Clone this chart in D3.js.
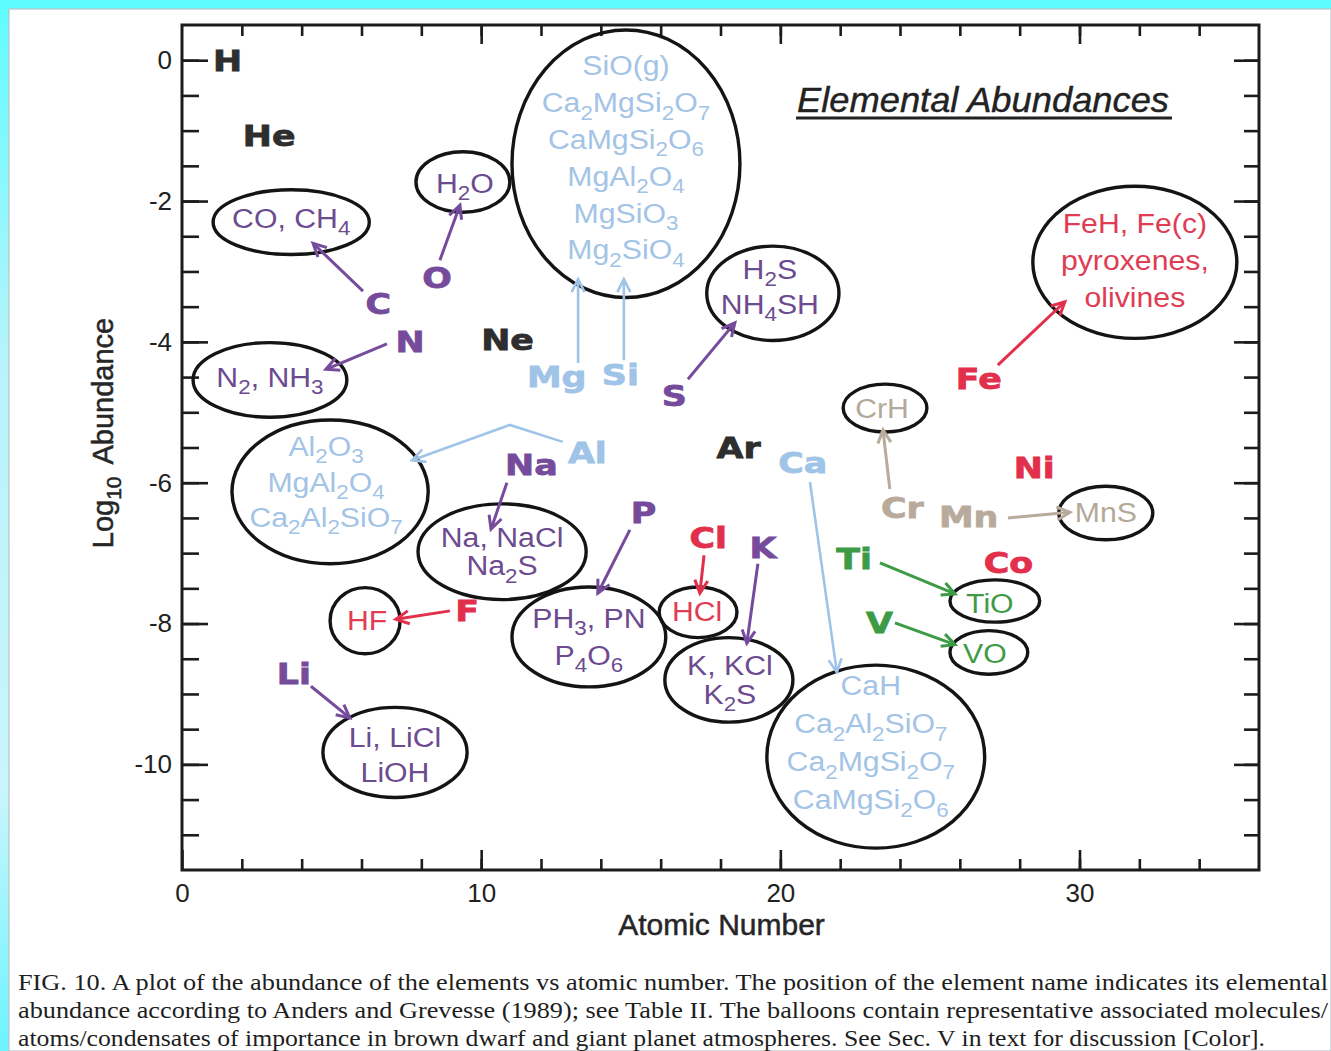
<!DOCTYPE html>
<html>
<head>
<meta charset="utf-8">
<script src="https://cdn.jsdelivr.net/npm/d3@7"></script>
<style>
  html, body { margin: 0; padding: 0; background: #fff; }
  svg { display: block; }
</style>
</head>
<body>
<svg id="chart" width="1331" height="1051"></svg>
<script>
// ---- Elements: atomic number and log10 abundance relative to hydrogen ----
const elementSymbols = ["H","He","Li","C","N","O","F","Ne","Na","Mg","Al","Si","P","S","Cl","Ar","K","Ca","Ti","V","Cr","Mn","Fe","Co","Ni"];
const atomicNumbers  = [1, 2, 3, 6, 7, 8, 9, 10, 11, 12, 13, 14, 15, 16, 17, 18, 19, 20, 22, 23, 24, 25, 26, 27, 28];
const logAbundances  = [0.00, -1.07, -8.71, -3.45, -4.00, -3.08, -7.81, -3.96, -5.74, -4.49, -5.57, -4.47, -6.42, -4.76, -6.78, -5.50, -6.92, -5.71, -7.07, -7.98, -6.35, -6.48, -4.52, -7.13, -5.78];
const elementGroups  = ["inert","inert","volatile","volatile","volatile","volatile","halogen","inert","volatile","refractory","refractory","refractory","volatile","volatile","halogen","inert","volatile","refractory","oxide","oxide","sulfide","sulfide","halogen","halogen","halogen"];

// ---- Balloons: representative molecules / condensates ----
const balloonLines = [
  ["CO, CH4"],
  ["N2, NH3"],
  ["H2O"],
  ["SiO(g)", "Ca2MgSi2O7", "CaMgSi2O6", "MgAl2O4", "MgSiO3", "Mg2SiO4"],
  ["H2S", "NH4SH"],
  ["FeH, Fe(c)", "pyroxenes,", "olivines"],
  ["CrH"],
  ["MnS"],
  ["TiO"],
  ["VO"],
  ["CaH", "Ca2Al2SiO7", "Ca2MgSi2O7", "CaMgSi2O6"],
  ["K, KCl", "K2S"],
  ["HCl"],
  ["PH3, PN", "P4O6"],
  ["Na, NaCl", "Na2S"],
  ["Al2O3", "MgAl2O4", "Ca2Al2SiO7"],
  ["HF"],
  ["Li, LiCl", "LiOH"]
];
const balloonGroups = ["volatile","volatile","volatile","refractory","volatile","halogen","sulfide","sulfide","oxide","oxide","refractory","volatile","halogen","volatile","volatile","refractory","halogen","volatile"];

// Axis tick values
const xMinorTicks = d3.range(2, 36, 2);
const xMajorTicks = [0, 10, 20, 30];
const yMinorTicks = d3.range(-11, 0.01, 0.5);
const yMajorTicks = [0, -2, -4, -6, -8, -10];

// ---- Layout (data units for shapes, pixels for nudges) ----
const balloonShapes = [
  {cx: 3.65,  cy: -2.30, rx: 2.61, ry: 0.46, gap: 0,  dx: 0,  dy: -4},
  {cx: 2.94,  cy: -4.54, rx: 2.57, ry: 0.53, gap: 0,  dx: 0,  dy: -3},
  {cx: 9.39,  cy: -1.73, rx: 1.57, ry: 0.43, gap: 0,  dx: 2,  dy: 1},
  {cx: 14.84, cy: -1.47, rx: 3.81, ry: 1.90, gap: 36.8, dx: 0, dy: -6},
  {cx: 19.75, cy: -3.31, rx: 2.21, ry: 0.67, gap: 35, dx: -3, dy: -7},
  {cx: 31.85, cy: -2.87, rx: 3.41, ry: 1.08, gap: 37, dx: 0,  dy: -2},
  {cx: 23.50, cy: -4.94, rx: 1.40, ry: 0.34, gap: 0,  dx: -3, dy: 0},
  {cx: 30.88, cy: -6.43, rx: 1.57, ry: 0.38, gap: 0,  dx: 0,  dy: -1},
  {cx: 27.17, cy: -7.68, rx: 1.50, ry: 0.30, gap: 0,  dx: -5, dy: 2},
  {cx: 26.97, cy: -8.41, rx: 1.30, ry: 0.31, gap: 0,  dx: -4, dy: 1},
  {cx: 23.19, cy: -9.89, rx: 3.64, ry: 1.30, gap: 38, dx: -5, dy: -14},
  {cx: 18.28, cy: -8.80, rx: 2.14, ry: 0.60, gap: 29, dx: 1,  dy: 0},
  {cx: 17.25, cy: -7.84, rx: 1.30, ry: 0.36, gap: 0,  dx: -1, dy: -1},
  {cx: 13.60, cy: -8.19, rx: 2.57, ry: 0.71, gap: 37, dx: 0,  dy: 0},
  {cx: 10.70, cy: -6.98, rx: 2.81, ry: 0.68, gap: 28, dx: 0,  dy: 0},
  {cx: 4.95,  cy: -6.13, rx: 3.28, ry: 1.02, gap: 35.5, dx: -4, dy: -10},
  {cx: 6.12,  cy: -7.96, rx: 1.17, ry: 0.47, gap: 0,  dx: 2,  dy: 0},
  {cx: 7.12,  cy: -9.83, rx: 2.41, ry: 0.64, gap: 35, dx: 0,  dy: 2}
];

// Arrows from each element name to its balloon (data units)
const arrowPaths = [
  {g: "volatile",   pts: [[6.05,-3.28],[4.38,-2.60]]},
  {g: "volatile",   pts: [[6.85,-4.03],[4.81,-4.39]]},
  {g: "volatile",   pts: [[8.62,-2.84],[9.29,-2.06]]},
  {g: "refractory", pts: [[13.24,-4.30],[13.24,-3.11]]},
  {g: "refractory", pts: [[14.77,-4.26],[14.77,-3.11]]},
  {g: "volatile",   pts: [[16.91,-4.53],[18.48,-3.73]]},
  {g: "refractory", pts: [[12.73,-5.42],[10.96,-5.18],[7.69,-5.68]]},
  {g: "volatile",   pts: [[10.86,-6.00],[10.33,-6.66]]},
  {g: "volatile",   pts: [[14.97,-6.67],[13.90,-7.57]]},
  {g: "halogen",    pts: [[17.45,-7.03],[17.31,-7.57]]},
  {g: "volatile",   pts: [[19.25,-7.15],[18.88,-8.28]]},
  {g: "refractory", pts: [[20.99,-5.99],[21.89,-8.69]]},
  {g: "halogen",    pts: [[8.96,-7.82],[7.15,-7.94]]},
  {g: "volatile",   pts: [[4.31,-8.89],[5.61,-9.34]]},
  {g: "sulfide",    pts: [[23.66,-6.09],[23.43,-5.25]]},
  {g: "sulfide",    pts: [[27.61,-6.50],[29.68,-6.42]]},
  {g: "oxide",      pts: [[23.33,-7.14],[25.84,-7.58]]},
  {g: "oxide",      pts: [[23.83,-7.99],[25.84,-8.30]]},
  {g: "halogen",    pts: [[27.27,-4.33],[29.51,-3.43]]}
];

// Horizontal nudges (px) so neighbouring element names do not collide
const labelNudge = {H: 1, He: 1, Li: 5, C: 4, N: 4, O: 1, F: 4, Na: -6, Mg: -14, Al: -3, Si: 1, S: 1, Cl: -1, Ar: -4, K: -1, Ca: -2, Ti: -4, V: -4, Cr: -19, Mn: 9, Fe: -4, Co: -6, Ni: -6};

const labelColor = {inert: "#2e2e2e", volatile: "#764b9c", refractory: "#9fc4e8", halogen: "#e2304c", sulfide: "#b8ab9c", oxide: "#3d9b45"};
const textColor  = {inert: "#2e2e2e", volatile: "#6c4b90", refractory: "#a3c4e6", halogen: "#e03d55", sulfide: "#b4a999", oxide: "#3f9a48"};

const captionLines = [
  "FIG. 10. A plot of the abundance of the elements vs atomic number. The position of the element name indicates its elemental",
  "abundance according to Anders and Grevesse (1989); see Table II. The balloons contain representative associated molecules/",
  "atoms/condensates of importance in brown dwarf and giant planet atmospheres. See Sec. V in text for discussion [Color]."
];

// ---- Drawing ----
const svg = d3.select("#chart");
const W = 1331, H = 1051;
const plot = {left: 182, right: 1259, top: 25, bottom: 870};

const x = d3.scaleLinear().domain([0, 36]).range([plot.left, plot.right]);
const y = d3.scaleLinear().domain([0.5, -11.5]).range([plot.top, plot.bottom]);

// Page frame: cyan border on top and left
const defs = svg.append("defs");
const grad = defs.append("linearGradient").attr("id", "edgeFade").attr("x1", 0).attr("y1", 0).attr("x2", 0).attr("y2", 1);
grad.append("stop").attr("offset", "0%").attr("stop-color", "#5ffcff");
grad.append("stop").attr("offset", "35%").attr("stop-color", "#b8f3fb");
grad.append("stop").attr("offset", "75%").attr("stop-color", "#c9f5fc");
grad.append("stop").attr("offset", "100%").attr("stop-color", "#6cf4ff");
svg.append("rect").attr("width", W).attr("height", H).attr("fill", "url(#edgeFade)");
svg.append("rect").attr("x", 0).attr("y", 0).attr("width", W).attr("height", 9).attr("fill", "#5ffcff");
svg.append("rect").attr("x", 9).attr("y", 9).attr("width", W - 9).attr("height", H - 9)
  .attr("fill", "#fff").attr("stroke", "#b9c4c6").attr("stroke-width", 1.2);

const g = svg.append("g");

// Axes with inward ticks on all four sides
function styleAxis(sel, width) {
  sel.select(".domain").remove();
  sel.selectAll(".tick line").attr("stroke", "#1c1c1c").attr("stroke-width", width);
}
const axisFont = "'Liberation Sans', Arial, Helvetica, sans-serif";

g.append("g").attr("transform", `translate(0,${plot.bottom})`)
  .call(d3.axisBottom(x).tickValues(xMinorTicks).tickSizeInner(-11).tickSizeOuter(0).tickFormat(""))
  .call(s => styleAxis(s, 2.6));
g.append("g").attr("transform", `translate(0,${plot.bottom})`)
  .call(d3.axisBottom(x).tickValues(xMajorTicks).tickSizeInner(-20).tickSizeOuter(0).tickPadding(14).tickFormat(d => String(d)))
  .call(s => styleAxis(s, 2.6))
  .call(s => s.selectAll("text").attr("font-family", axisFont).attr("font-size", 26).attr("fill", "#222"));
g.append("g").attr("transform", `translate(0,${plot.top})`)
  .call(d3.axisTop(x).tickValues(xMinorTicks).tickSizeInner(-11).tickSizeOuter(0).tickFormat(""))
  .call(s => styleAxis(s, 2.6));
g.append("g").attr("transform", `translate(0,${plot.top})`)
  .call(d3.axisTop(x).tickValues([10, 20, 30]).tickSizeInner(-19).tickSizeOuter(0).tickFormat(""))
  .call(s => styleAxis(s, 2.6));

g.append("g").attr("transform", `translate(${plot.left},0)`)
  .call(d3.axisLeft(y).tickValues(yMinorTicks).tickSizeInner(-17).tickSizeOuter(0).tickFormat(""))
  .call(s => styleAxis(s, 2.6));
g.append("g").attr("transform", `translate(${plot.left},0)`)
  .call(d3.axisLeft(y).tickValues(yMajorTicks).tickSizeInner(-26).tickSizeOuter(0).tickPadding(10).tickFormat(d => String(d)))
  .call(s => styleAxis(s, 2.6))
  .call(s => s.selectAll("text").attr("font-family", axisFont).attr("font-size", 26).attr("fill", "#222"));
g.append("g").attr("transform", `translate(${plot.right},0)`)
  .call(d3.axisRight(y).tickValues(yMinorTicks).tickSizeInner(-15).tickSizeOuter(0).tickFormat(""))
  .call(s => styleAxis(s, 2.6));
g.append("g").attr("transform", `translate(${plot.right},0)`)
  .call(d3.axisRight(y).tickValues(yMajorTicks).tickSizeInner(-25).tickSizeOuter(0).tickFormat(""))
  .call(s => styleAxis(s, 2.6));

g.append("rect")
  .attr("x", plot.left).attr("y", plot.top)
  .attr("width", plot.right - plot.left).attr("height", plot.bottom - plot.top)
  .attr("fill", "none").attr("stroke", "#1c1c1c").attr("stroke-width", 3);

// Axis titles
g.append("text")
  .attr("x", (plot.left + plot.right) / 2 + 1).attr("y", 935)
  .attr("text-anchor", "middle")
  .attr("font-family", axisFont).attr("font-size", 30)
  .attr("fill", "#262626").attr("stroke", "#262626").attr("stroke-width", 0.5)
  .text("Atomic Number");

const yTitle = g.append("text")
  .attr("transform", "translate(113,433) rotate(-90)")
  .attr("text-anchor", "middle")
  .attr("font-family", axisFont).attr("font-size", 29)
  .attr("fill", "#262626").attr("stroke", "#262626").attr("stroke-width", 0.5);
yTitle.append("tspan").text("Log");
yTitle.append("tspan").attr("font-size", 21).attr("dy", 8).text("10");
yTitle.append("tspan").attr("dy", -8).attr("dx", 12).text("Abundance");

// Chart title
const title = g.append("text")
  .attr("x", 797).attr("y", 112)
  .attr("font-family", axisFont).attr("font-style", "italic").attr("font-size", 35)
  .attr("fill", "#222").attr("stroke", "#222").attr("stroke-width", 0.4)
  .attr("textLength", 372).attr("lengthAdjust", "spacingAndGlyphs")
  .text("Elemental Abundances");
g.append("line")
  .attr("x1", 796).attr("x2", 1172)
  .attr("y1", 118).attr("y2", 118)
  .attr("stroke", "#222").attr("stroke-width", 3);

// Chemical formula text: every digit is set as a subscript
function writeFormula(textSel, str, fs) {
  const parts = str.match(/\d+|\D+/g);
  const shift = fs * 0.27, subFs = fs * 0.74;
  let lowered = false;
  parts.forEach(p => {
    const isNum = /^\d/.test(p);
    const t = textSel.append("tspan").text(p);
    if (isNum) {
      t.attr("font-size", subFs);
      if (!lowered) { t.attr("dy", shift); lowered = true; }
    } else if (lowered) {
      t.attr("dy", -shift); lowered = false;
    }
  });
}

// Balloons
const balloonLayer = g.append("g");
balloonShapes.forEach((b, i) => {
  const px = x(b.cx), py = y(b.cy);
  balloonLayer.append("ellipse")
    .attr("cx", px).attr("cy", py)
    .attr("rx", x(b.cx + b.rx) - px).attr("ry", y(b.cy - b.ry) - py)
    .attr("fill", "none").attr("stroke", "#141414").attr("stroke-width", 3.4);
  const lines = balloonLines[i];
  const col = textColor[balloonGroups[i]];
  const fs = 27;
  lines.forEach((ln, k) => {
    const ly = py + b.dy + (k - (lines.length - 1) / 2) * b.gap;
    const t = balloonLayer.append("text")
      .attr("transform", `translate(${px + b.dx},${ly}) scale(1.12,1)`)
      .attr("dy", "0.36em")
      .attr("text-anchor", "middle")
      .attr("font-family", axisFont).attr("font-size", fs)
      .attr("fill", col);
    writeFormula(t, ln, fs);
  });
});

// Arrows
const arrowLayer = g.append("g");
const line = d3.line().x(d => x(d[0])).y(d => y(d[1]));
arrowPaths.forEach(a => {
  const col = labelColor[a.g];
  const w = a.g === "refractory" ? 2.6 : 3;
  arrowLayer.append("path").attr("d", line(a.pts))
    .attr("fill", "none").attr("stroke", col).attr("stroke-width", w);
  const p1 = a.pts[a.pts.length - 2], p2 = a.pts[a.pts.length - 1];
  const ang = Math.atan2(y(p2[1]) - y(p1[1]), x(p2[0]) - x(p1[0])) * 180 / Math.PI;
  arrowLayer.append("path")
    .attr("d", "M-13,-6.5 L0,0 L-13,6.5")
    .attr("transform", `translate(${x(p2[0])},${y(p2[1])}) rotate(${ang})`)
    .attr("fill", "none").attr("stroke", col).attr("stroke-width", w)
    .attr("stroke-linejoin", "miter");
});

// Element names placed at (atomic number, abundance)
const elements = elementSymbols.map((s, i) => ({sym: s, z: atomicNumbers[i], v: logAbundances[i], grp: elementGroups[i]}));
g.append("g").selectAll("text").data(elements).join("text")
  .attr("transform", d => `translate(${x(d.z) + (labelNudge[d.sym] || 0)},${y(d.v)}) scale(1.2,1)`)
  .attr("dy", "0.36em")
  .attr("font-family", "'DejaVu Sans', sans-serif").attr("font-weight", "bold").attr("font-size", 29)
  .attr("fill", d => labelColor[d.grp]).attr("stroke", d => labelColor[d.grp]).attr("stroke-width", 0.8)
  .text(d => d.sym);

// Caption
const capWidths = [1310, 1310, 1247];
captionLines.forEach((c, i) => {
  svg.append("text")
    .attr("x", 18).attr("y", 990 + i * 28)
    .attr("font-family", "'Liberation Serif', 'Times New Roman', serif").attr("font-size", 24)
    .attr("fill", "#1e1e1e")
    .attr("textLength", capWidths[i]).attr("lengthAdjust", "spacingAndGlyphs")
    .text(c);
});
</script>
</body>
</html>
